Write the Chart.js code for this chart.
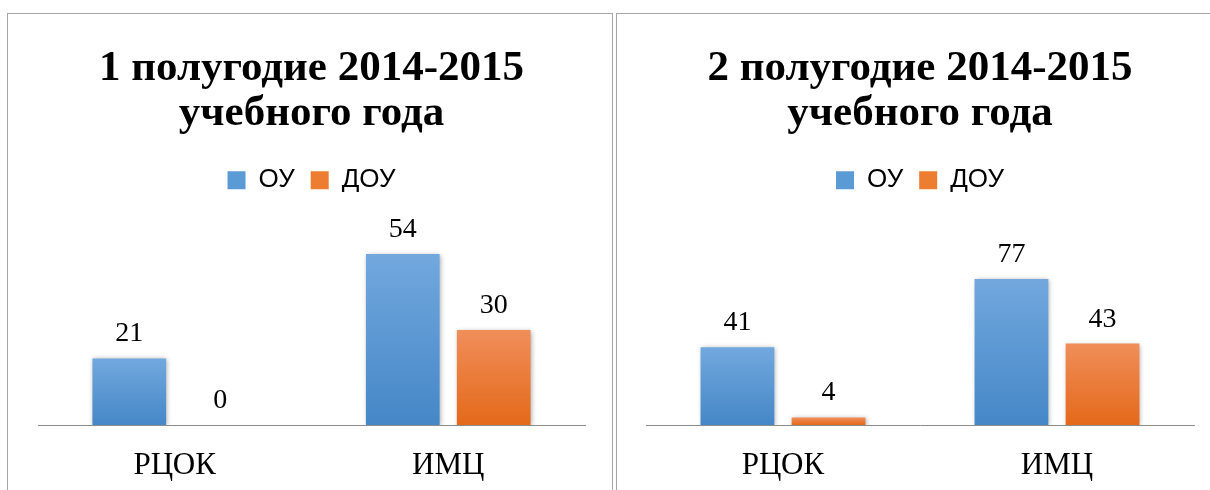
<!DOCTYPE html>
<html lang="ru">
<head>
<meta charset="utf-8">
<title>Обращения ОУ и ДОУ</title>
<script src="https://cdn.jsdelivr.net/npm/chart.js@4.4.0/dist/chart.umd.min.js"></script>
<style>
    body { margin: 0; background: #fff; width: 1210px; height: 490px; overflow: hidden; position: relative; }
    .panel { position: absolute; top: 13px; border: 1px solid #a6a6a6; background: #fff; }
    #panel1 { left: 7px; width: 604px; height: 500px; }
    #panel2 { left: 616px; width: 600px; height: 500px; }
    canvas { display: block; }
</style>
</head>
<body>
<div class="panel" id="panel1"><canvas id="chart1" width="604" height="476"></canvas></div>
<div class="panel" id="panel2"><canvas id="chart2" width="594" height="476"></canvas></div>

<script>
// данные по полугодиям
const categories = ['РЦОК', 'ИМЦ'];
const seriesNames = ['ОУ', 'ДОУ'];

const half1Title = ['1 полугодие 2014-2015', 'учебного года'];
const half1OU = [21, 54];
const half1DOU = [0, 30];
const half1Max = 70;

const half2Title = ['2 полугодие 2014-2015', 'учебного года'];
const half2OU = [41, 77];
const half2DOU = [4, 43];
const half2Max = 117;

// цвета: верх / низ градиента и цвет для легенды
const blueTop = '#72a8de', blueBottom = '#4587c7', blueMid = '#5b9bd5';
const orangeTop = '#f08e5a', orangeBottom = '#e4691a', orangeMid = '#ed7d31';

function barGradient(top, bottom, fallback) {
    return function(c) {
        const chart = c.chart;
        const y = chart.scales.y;
        if (!chart.chartArea || !y || !c.parsed) return fallback;
        const y0 = y.getPixelForValue(0);
        const y1 = y.getPixelForValue(c.parsed.y);
        if (!isFinite(y0) || !isFinite(y1) || y0 === y1) return fallback;
        const g = chart.ctx.createLinearGradient(0, y1, 0, y0);
        g.addColorStop(0, top);
        g.addColorStop(1, bottom);
        return g;
    };
}

// лёгкая тень под столбиками
const barShadow = {
    id: 'barShadow',
    beforeDatasetsDraw(chart) {
        const ctx = chart.ctx;
        ctx.save();
        ctx.shadowColor = 'rgba(0,0,0,0.35)';
        ctx.shadowBlur = 5;
        ctx.shadowOffsetX = 1;
        ctx.shadowOffsetY = 1;
    },
    afterDatasetsDraw(chart) {
        chart.ctx.restore();
    }
};

// подписи значений над столбиками
const valueLabels = {
    id: 'valueLabels',
    afterDatasetsDraw(chart) {
        const ctx = chart.ctx;
        ctx.save();
        ctx.font = '28px "Liberation Serif", "Times New Roman", serif';
        ctx.fillStyle = '#000';
        ctx.textAlign = 'center';
        ctx.textBaseline = 'alphabetic';
        chart.data.datasets.forEach((ds, i) => {
            chart.getDatasetMeta(i).data.forEach((bar, j) => {
                ctx.fillText(String(ds.data[j]), bar.x, bar.y - 17);
            });
        });
        ctx.restore();
    }
};

function makeChart(canvasId, title, ou, dou, yMax, padLeft, padRight) {
    const ctx = document.getElementById(canvasId).getContext('2d');
    return new Chart(ctx, {
        type: 'bar',
        data: {
            labels: categories,
            datasets: [{
                label: seriesNames[0],
                data: ou,
                backgroundColor: barGradient(blueTop, blueBottom, blueMid),
                categoryPercentage: 0.665,
                barPercentage: 0.81
            }, {
                label: seriesNames[1],
                data: dou,
                backgroundColor: barGradient(orangeTop, orangeBottom, orangeMid),
                categoryPercentage: 0.665,
                barPercentage: 0.81
            }]
        },
        options: {
            responsive: false,
            animation: false,
            events: [],
            layout: { padding: { left: padLeft, right: padRight, top: 0, bottom: 0 } },
            plugins: {
                title: {
                    display: true,
                    text: title,
                    color: '#000',
                    font: { family: '"Liberation Serif", "Times New Roman", serif', size: 43, weight: 'bold', lineHeight: 1.05 },
                    padding: { top: 32, bottom: 15 }
                },
                legend: {
                    display: true,
                    position: 'top',
                    labels: {
                        color: '#000',
                        font: { family: '"Liberation Sans", Arial, sans-serif', size: 26 },
                        boxWidth: 18,
                        boxHeight: 18,
                        padding: 16,
                        generateLabels(chart) {
                            const fills = [blueMid, orangeMid];
                            return chart.data.datasets.map((ds, i) => ({
                                text: ds.label,
                                fillStyle: fills[i],
                                strokeStyle: fills[i],
                                lineWidth: 0,
                                datasetIndex: i,
                                fontColor: '#000'
                            }));
                        }
                    }
                },
                tooltip: { enabled: false }
            },
            scales: {
                x: {
                    grid: { display: false, drawTicks: false },
                    border: { display: true, color: '#8c8c8c', width: 1 },
                    ticks: {
                        color: '#000',
                        padding: 22,
                        font: { family: '"Liberation Serif", "Times New Roman", serif', size: 31 }
                    },
                    afterFit(scale) { scale.height = 65; }
                },
                y: {
                    display: false,
                    min: 0,
                    max: yMax
                }
            }
        },
        plugins: [barShadow, valueLabels]
    });
}

makeChart('chart1', half1Title, half1OU, half1DOU, half1Max, 30, 27);
makeChart('chart2', half2Title, half2OU, half2DOU, half2Max, 29, 17);
</script>
</body>
</html>
